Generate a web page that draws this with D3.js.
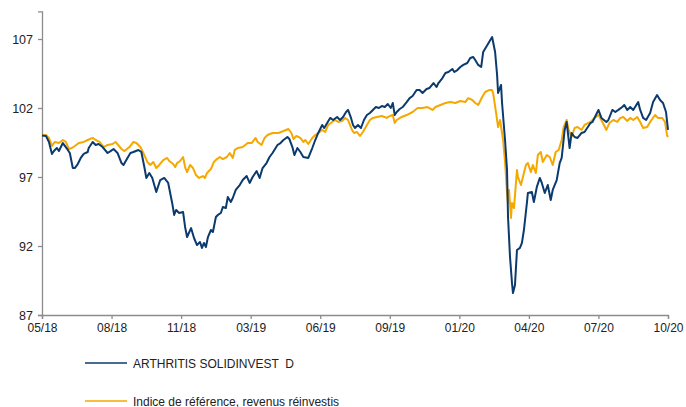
<!DOCTYPE html>
<html>
<head>
<meta charset="utf-8">
<script src="https://cdn.jsdelivr.net/npm/d3@7"></script>
<style>
  html, body { margin: 0; padding: 0; background: #fff; }
  svg { display: block; font-family: "Liberation Sans", Arial, sans-serif; }
</style>
</head>
<body>
<div id="chart"></div>
<script>
// ---- Data (trading-day index, value rebased to 100) ----
const seriesNames = ["ARTHRITIS SOLIDINVEST  D", "Indice de référence, revenus réinvestis"];
const xTickLabels = ["05/18","08/18","11/18","03/19","06/19","09/19","01/20","04/20","07/20","10/20"];
const xTickIndex = [0,70,140,210,280,350,420,490,560,630];
const yTicks = [87, 92, 97, 102, 107];

const fundIdx = [0,4,7,10,12,15,17,21,26,28,31,33,36,39,42,46,47,51,54,57,61,66,69,72,76,80,82,86,89,92,97,100,103,105,108,111,115,119,123,127,131,133,135,138,142,144,146,150,153,156,159,161,163,165,167,170,172,175,177,180,182,185,187,190,192,195,199,202,206,209,212,216,219,222,226,229,232,237,240,243,247,249,252,254,257,260,263,268,272,275,278,282,284,287,290,293,297,300,303,306,308,311,313,315,318,321,324,327,330,333,336,339,342,345,348,351,353,355,357,360,363,367,370,373,377,380,383,387,390,394,397,399,403,406,409,413,415,418,421,424,428,431,434,436,439,442,444,447,450,453,456,458,459,462,463,466,468,469,471,473,474,476,478,481,483,485,488,489,493,495,498,501,503,506,509,512,514,518,521,523,526,528,531,533,536,539,543,546,552,554,560,563,568,570,574,577,580,584,586,589,592,595,600,602,605,608,612,615,619,622,625,628,630];
const fundValues = [100.0,99.97,99.54,98.67,98.88,99.10,98.88,99.46,98.96,98.74,97.65,97.65,97.94,98.38,98.67,98.81,99.10,99.54,99.32,99.39,99.17,98.74,98.88,99.03,98.74,98.01,97.87,98.38,98.74,98.81,98.96,98.81,97.72,96.93,97.29,96.93,95.91,96.78,96.93,96.57,95.12,94.25,94.61,94.39,94.46,93.38,92.65,93.30,92.58,92.07,92.29,91.86,92.22,91.93,92.65,93.16,93.01,94.10,94.25,94.39,94.83,94.75,95.55,95.19,95.48,96.06,96.42,96.78,97.07,96.57,97.00,97.43,96.93,97.65,98.01,98.45,98.74,99.32,99.46,99.68,99.90,99.75,99.17,98.59,99.10,98.81,98.45,98.38,99.10,99.68,100.19,100.77,100.55,100.91,101.28,101.13,101.35,101.13,101.35,101.71,101.86,101.28,100.77,100.55,100.77,100.55,101.13,101.49,101.64,101.86,102.07,102.00,102.14,102.07,102.29,102.00,102.36,101.49,101.71,101.93,102.07,102.43,102.72,102.87,103.30,103.30,103.09,103.38,103.45,103.81,103.52,103.81,104.17,104.54,104.61,104.83,104.61,104.75,104.97,105.12,105.26,105.62,105.70,105.48,105.12,104.97,106.06,106.42,106.78,107.14,106.06,104.39,103.09,103.67,102.36,99.68,97.51,94.10,91.20,89.32,88.59,89.17,91.71,91.86,92.22,93.16,95.12,95.84,95.91,95.19,96.28,96.93,96.57,95.84,96.42,95.33,96.06,96.78,98.01,98.38,100.41,100.99,99.10,100.19,99.90,99.83,100.19,100.26,100.91,100.99,101.86,101.28,100.99,101.13,101.86,101.71,101.86,102.07,102.22,101.86,102.07,101.86,102.43,101.86,101.28,101.13,101.64,102.43,102.94,102.58,102.36,101.71,100.41];

const benchIdx = [0,4,7,10,13,17,21,24,27,30,33,37,42,46,51,54,58,62,66,71,74,80,83,88,92,95,99,102,106,109,112,115,118,122,126,128,132,134,136,139,142,144,146,149,152,155,158,162,164,166,170,173,176,179,182,186,189,192,194,197,202,207,211,215,217,221,224,227,232,238,243,248,251,253,256,260,263,265,268,272,275,278,282,285,288,292,295,298,302,305,308,312,314,317,320,323,327,330,333,337,342,347,350,353,355,357,362,367,373,378,383,388,393,396,401,406,411,416,421,426,429,433,436,439,443,446,450,453,454,457,459,461,463,464,466,468,469,470,472,473,475,478,479,482,484,487,489,492,494,497,499,502,504,508,511,514,517,520,523,525,528,530,533,536,539,543,546,552,555,560,564,568,571,575,579,582,585,589,592,595,599,602,605,609,612,617,620,624,627,629,630];
const benchValues = [100.0,100.04,99.83,99.25,99.54,99.46,99.68,99.54,99.03,99.10,99.25,99.46,99.54,99.68,99.83,99.68,99.54,99.17,99.32,99.39,99.54,99.03,98.88,99.17,99.54,99.46,99.17,98.74,98.09,97.87,98.09,97.65,97.87,98.23,98.38,98.16,97.94,97.72,98.01,98.16,98.45,97.72,97.36,97.87,97.65,97.14,96.93,97.07,96.93,97.29,97.58,98.09,98.30,98.45,98.30,98.45,98.74,98.38,98.96,99.10,99.17,99.46,99.46,99.83,99.54,99.32,99.83,100.04,100.19,100.19,100.33,100.48,100.19,99.75,99.97,99.83,99.54,99.68,99.39,99.83,100.04,100.19,100.41,100.26,100.77,100.99,101.13,100.99,101.06,101.28,101.13,100.41,100.19,100.26,99.97,100.26,100.77,101.13,101.28,101.35,101.42,101.28,101.42,101.49,100.91,101.13,101.35,101.49,101.71,102.00,102.00,102.07,101.86,102.07,102.22,102.36,102.43,102.36,102.51,102.43,102.72,102.58,102.36,102.22,102.80,103.16,103.30,103.30,103.09,101.64,100.62,101.13,100.19,99.68,98.09,95.84,95.12,96.06,94.03,95.12,94.75,97.51,97.00,96.42,97.00,97.87,98.01,97.36,97.87,97.29,98.59,98.81,98.09,98.59,98.45,97.87,98.81,98.96,99.68,100.62,101.13,100.41,99.90,100.55,100.62,100.41,100.77,100.99,101.20,101.49,100.99,100.41,100.91,101.13,100.99,101.28,101.35,101.06,101.28,101.13,101.35,100.99,100.55,100.62,100.99,101.49,101.28,101.28,100.99,100.04,99.90];

// ---- Layout ----
const W = 686, H = 407;
const plot = { left: 42, right: 668, top: 11.4, bottom: 315 };
const colors = { fund: "#0b3a6e", bench: "#f5a800", axis: "#8c8c8c", text: "#222222" };

const svg = d3.select("#chart").append("svg").attr("width", W).attr("height", H);

const x = d3.scaleLinear().domain([0, 630]).range([plot.left, plot.right]);
const y = d3.scaleLinear().domain([87, 109]).range([plot.bottom, plot.top]);

// Y axis
const yAxis = d3.axisLeft(y).tickValues(yTicks).tickSize(4).tickPadding(5).tickFormat(d3.format("d"));
const gy = svg.append("g").attr("transform", `translate(${plot.left},0)`).call(yAxis);
gy.select(".domain").attr("stroke", colors.axis).attr("stroke-width", 1.3);
gy.selectAll(".tick line").attr("stroke", colors.axis).attr("stroke-width", 1.3);
gy.selectAll(".tick text").attr("fill", colors.text).style("font-size", "12.5px").style("font-family", "'Liberation Sans', Arial, sans-serif");

// X axis
const xAxis = d3.axisBottom(x).tickValues(xTickIndex).tickSize(4).tickPadding(4)
  .tickFormat((d, i) => xTickLabels[i]);
const gx = svg.append("g").attr("transform", `translate(0,${plot.bottom})`).call(xAxis);
gx.select(".domain").attr("stroke", colors.axis).attr("stroke-width", 1.3);
gx.selectAll(".tick line").attr("stroke", colors.axis).attr("stroke-width", 1.3);
gx.selectAll(".tick text").attr("fill", colors.text).style("font-size", "12px").style("font-family", "'Liberation Sans', Arial, sans-serif");

// Lines
const line = d3.line().x(d => x(d[0])).y(d => y(d[1])).curve(d3.curveLinear);
const fundData = fundIdx.map((d, i) => [d, fundValues[i]]);
const benchData = benchIdx.map((d, i) => [d, benchValues[i]]);

svg.append("path").datum(benchData).attr("d", line)
  .attr("fill", "none").attr("stroke", colors.bench).attr("stroke-width", 2).attr("stroke-linejoin", "round");
svg.append("path").datum(fundData).attr("d", line)
  .attr("fill", "none").attr("stroke", colors.fund).attr("stroke-width", 2).attr("stroke-linejoin", "round");

// Legend
const legend = svg.append("g");
const legendItems = [
  { name: seriesNames[0], color: colors.fund, y: 363 },
  { name: seriesNames[1], color: colors.bench, y: 401 }
];
legendItems.forEach(it => {
  legend.append("line").attr("x1", 85).attr("x2", 127).attr("y1", it.y).attr("y2", it.y)
    .attr("stroke", it.color).attr("stroke-width", 1.6);
  legend.append("text").attr("x", 133).attr("y", it.y + 4.5)
    .attr("fill", colors.text).style("font-size", "12px").style("white-space", "pre")
    .attr("xml:space", "preserve")
    .text(it.name);
});
</script>
</body>
</html>
